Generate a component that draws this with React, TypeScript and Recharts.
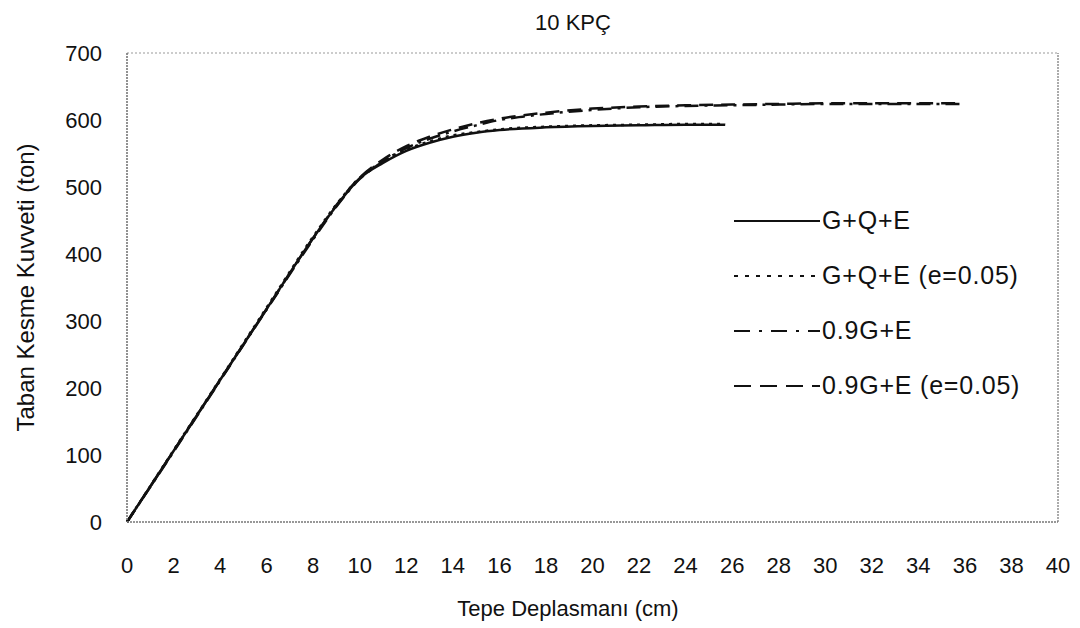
import React from "react";
import { LineChart, Line, XAxis, YAxis, ReferenceLine } from "recharts";

// ---- data ----
const xTicks = [0, 2, 4, 6, 8, 10, 12, 14, 16, 18, 20, 22, 24, 26, 28, 30, 32, 34, 36, 38, 40];
const yTicks = [0, 100, 200, 300, 400, 500, 600, 700];

const gqeX = [0, 2, 4, 6, 8, 9, 10, 11, 12, 13, 14, 15, 16, 18, 20, 22, 24, 25.7];
const gqeY = [0, 106, 212, 318, 424, 472, 513, 536, 554, 566, 575, 581, 585, 589, 591, 592, 593, 593];

const gqeEX = [0, 2, 4, 6, 8, 9, 10, 11, 12, 13, 14, 15, 16, 18, 20, 22, 24, 25.7];
const gqeEY = [0, 107, 213, 320, 426, 474, 514, 538, 556, 568, 577, 582, 586, 590, 592, 593, 594, 594];

const g9eX = [0, 2, 4, 6, 8, 9, 10, 11, 12, 13, 14, 15, 16, 17, 18, 20, 22, 24, 26, 28, 30, 32, 34, 35.8];
const g9eY = [0, 105, 211, 317, 422, 471, 512, 538, 558, 572, 583, 592, 600, 605, 609, 615, 619, 621, 622, 623, 624, 624, 624, 624];

const g9eEX = [0, 2, 4, 6, 8, 9, 10, 11, 12, 13, 14, 15, 16, 17, 18, 20, 22, 24, 26, 28, 30, 32, 34, 35.8];
const g9eEY = [0, 106, 212, 318, 424, 473, 514, 541, 561, 575, 586, 595, 602, 607, 611, 617, 620, 622, 623, 624, 625, 625, 625, 625];

const toPts = (xs: number[], ys: number[]) => xs.map((x, i) => ({ x, y: ys[i] }));

const seriesNames = ["G+Q+E", "G+Q+E (e=0.05)", "0.9G+E", "0.9G+E (e=0.05)"];
const seriesDash = ["", "3 5", "14 6 3 6", "14 8"];
const legendDash = ["", "4 7", "16 9 3 9", "17 9"];

const series = [
  toPts(gqeX, gqeY),
  toPts(gqeEX, gqeEY),
  toPts(g9eX, g9eY),
  toPts(g9eEX, g9eEY),
];

const FONT = "'Liberation Sans', Arial, sans-serif";
const INK = "#111";

const LegendBox = () => (
  <div
    style={{
      position: "absolute",
      left: 734,
      top: 193,
      fontFamily: FONT,
      fontSize: 25,
      letterSpacing: 0.8,
      color: INK,
      pointerEvents: "none",
    }}
  >
    {seriesNames.map((n, i) => (
      <div key={n} style={{ display: "flex", alignItems: "center", height: 55, whiteSpace: "nowrap" }}>
        <svg width={86} height={10} style={{ marginRight: 2, flex: "none" }}>
          <line x1={0} y1={5} x2={86} y2={5} stroke={INK} strokeWidth={2.2} strokeDasharray={legendDash[i] || undefined} />
        </svg>
        <span>{n}</span>
      </div>
    ))}
  </div>
);

export default function App() {
  return (
    <div style={{ position: "absolute", left: 0, top: 0, width: 1080, height: 628, background: "#fff" }}>
      <LineChart width={1080} height={628} margin={{ top: 53, right: 22, bottom: 0, left: 0 }}>
        <text x={573} y={30} textAnchor="middle" fontFamily={FONT} fontSize={22} fill={INK}>10 KPÇ</text>
        <XAxis
          type="number"
          dataKey="x"
          domain={[0, 40]}
          ticks={xTicks}
          interval={0}
          height={106}
          tickLine={false}
          tickSize={0}
          tickMargin={35}
          axisLine={{ stroke: "#777", strokeWidth: 1.6, strokeDasharray: "2 1" }}
          tick={{ fontFamily: FONT, fontSize: 22, fill: INK }}
          label={{
            content: () => (
              <text x={568} y={616} textAnchor="middle" fontFamily={FONT} fontSize={22} fill={INK}>
                Tepe Deplasmanı (cm)
              </text>
            ),
          }}
        />
        <YAxis
          type="number"
          domain={[0, 700]}
          ticks={yTicks}
          interval={0}
          width={127}
          tickLine={false}
          tickSize={0}
          tickMargin={25}
          axisLine={{ stroke: "#777", strokeWidth: 1.6, strokeDasharray: "2 1" }}
          tick={{ fontFamily: FONT, fontSize: 22, fill: INK }}
          label={{
            content: (p: any) => {
              const vb = p.viewBox || { y: 53, height: 469 };
              const cy = vb.y + vb.height / 2;
              return (
                <text
                  x={25}
                  y={cy}
                  transform={`rotate(-90, 25, ${cy})`}
                  textAnchor="middle"
                  dominantBaseline="central"
                  fontFamily={FONT}
                  fontSize={24}
                  fill={INK}
                >
                  Taban Kesme Kuvveti (ton)
                </text>
              );
            },
          }}
        />
        <ReferenceLine y={700} stroke="#999" strokeWidth={1.2} strokeDasharray="2 2" />
        <ReferenceLine x={40} stroke="#888" strokeWidth={1.4} strokeDasharray="2 1" />
        {series.map((d, i) => (
          <Line
            key={seriesNames[i]}
            data={d}
            dataKey="y"
            name={seriesNames[i]}
            type="monotone"
            stroke={INK}
            strokeWidth={2.5}
            strokeDasharray={seriesDash[i] || undefined}
            dot={false}
            activeDot={false}
            isAnimationActive={false}
          />
        ))}
      </LineChart>
      <LegendBox />
    </div>
  );
}
